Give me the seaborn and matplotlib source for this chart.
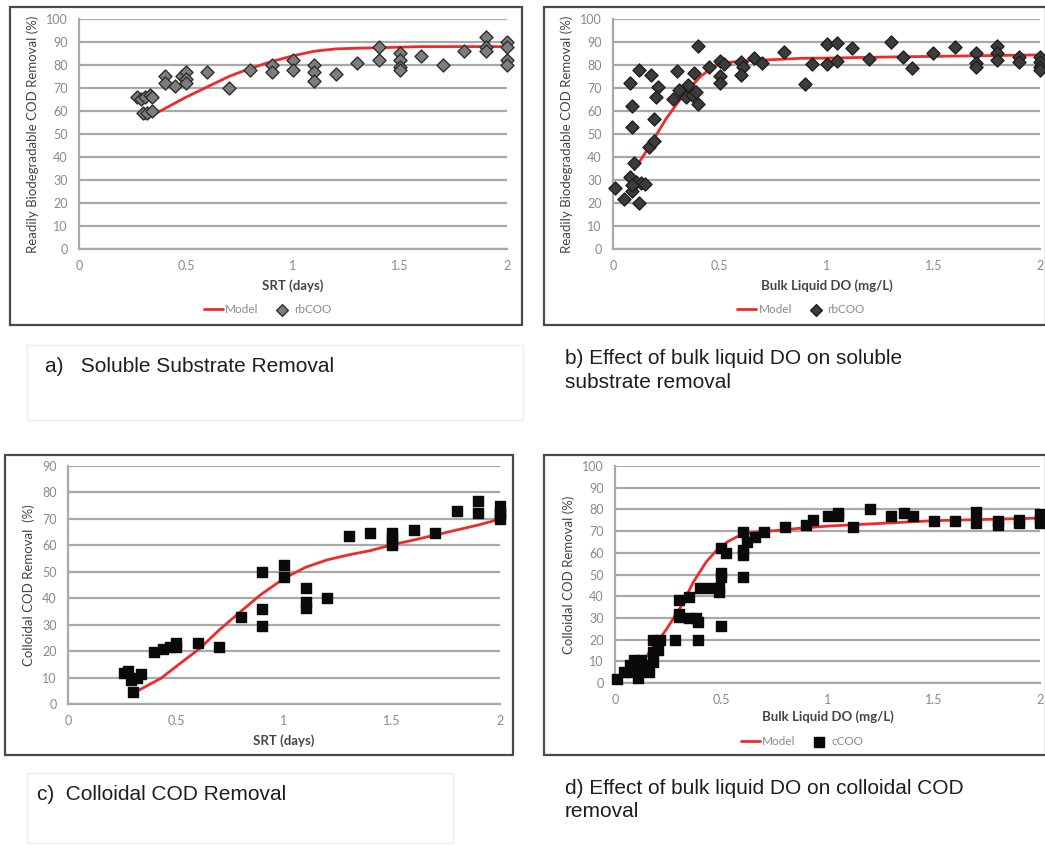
import matplotlib
matplotlib.use('Agg')
import matplotlib.pyplot as plt
import seaborn as sns
from matplotlib.patches import Rectangle

# a) rbCOD removal vs SRT
srt_a = [0.27, 0.29, 0.31, 0.33, 0.34, 0.30, 0.32, 0.34, 0.40, 0.40, 0.45, 0.48, 0.50, 0.50, 0.50,
         0.60, 0.70, 0.80, 0.90, 0.90, 1.00, 1.00, 1.10, 1.10, 1.10, 1.20, 1.30, 1.40, 1.40, 1.50,
         1.50, 1.50, 1.50, 1.60, 1.70, 1.80, 1.90, 1.90, 1.90, 2.00, 2.00, 2.00, 2.00]
rbcod_a = [66, 65, 66, 67, 66, 59, 59, 60, 75, 72, 71, 75, 77, 74, 72,
           77, 70, 78, 80, 77, 82, 78, 80, 77, 73, 76, 81, 88, 82, 85,
           82, 79, 78, 84, 80, 86, 92, 88, 86, 90, 88, 82, 80]
model_x_a = [0.31, 0.4, 0.5, 0.6, 0.7, 0.8, 0.9, 1.0, 1.1, 1.2, 1.3, 1.4, 1.6, 1.8, 2.0]
model_y_a = [56.5, 61, 66, 70.5, 75, 78.5, 81.5, 84, 86, 87, 87.3, 87.5, 88, 88, 88]

# b) rbCOD removal vs bulk DO
do_b = [0.01, 0.05, 0.09, 0.08, 0.12, 0.09, 0.09, 0.10, 0.08, 0.11, 0.13, 0.15, 0.12, 0.09,
        0.18, 0.21, 0.20, 0.19, 0.17, 0.19, 0.30, 0.28, 0.31, 0.35, 0.34, 0.37, 0.38, 0.40,
        0.40, 0.39, 0.45, 0.50, 0.52, 0.50, 0.50, 0.60, 0.61, 0.60, 0.66, 0.70, 0.80, 0.90,
        0.93, 1.00, 1.00, 1.05, 1.05, 1.12, 1.20, 1.30, 1.36, 1.40, 1.50, 1.60, 1.70, 1.70,
        1.70, 1.80, 1.80, 1.80, 1.90, 1.90, 2.00, 2.00, 2.00, 2.00]
rbcod_b = [26.4, 21.7, 25, 72.3, 77.8, 62.2, 53.2, 37.2, 31.4, 29, 28.5, 28.3, 20.1, 27.8,
           75.5, 70.6, 66, 56.4, 44.5, 47, 77.4, 65, 69, 71.3, 66, 67, 76.4, 88.3,
           63, 68.4, 79, 81.9, 80.4, 75, 72.3, 81.4, 79, 75.7, 82.9, 81, 85.5, 71.8,
           80.3, 89, 80.3, 89.7, 81.8, 87.3, 82.5, 90, 83.6, 78.9, 85, 88, 85, 80.8,
           79.3, 88.4, 85, 82, 83.4, 81.5, 83.6, 81.5, 79.3, 77.9]
model_x_b = [0.10, 0.17, 0.25, 0.33, 0.41, 0.47, 0.53, 0.63, 0.72, 0.88, 1.0, 1.3, 1.7, 2.0]
model_y_b = [34.5, 44.5, 56.8, 67, 75, 79.3, 81, 81.9, 82.2, 82.9, 83, 83.5, 84, 84.4]

# c) colloidal COD removal vs SRT
srt_c = [0.26, 0.28, 0.29, 0.30, 0.32, 0.34, 0.40, 0.44, 0.47, 0.50, 0.50, 0.60, 0.70, 0.80,
         0.90, 0.90, 0.90, 1.00, 1.00, 1.10, 1.10, 1.10, 1.20, 1.30, 1.40, 1.50, 1.50, 1.50,
         1.50, 1.60, 1.70, 1.80, 1.90, 1.90, 2.00, 2.00, 2.00, 2.00]
ccod_c = [11.6, 12.6, 9.1, 4.7, 10, 11.3, 19.8, 20.7, 21.7, 23.2, 21.7, 23, 21.7, 32.8,
          49.8, 35.8, 29.6, 52.6, 48.2, 44, 38.7, 36.2, 40, 63.7, 64.8, 64.8, 63, 61,
          60, 65.8, 64.8, 72.8, 76.8, 72.1, 74.9, 72.1, 70, 71.5]
model_x_c = [0.33, 0.43, 0.52, 0.61, 0.70, 0.80, 0.89, 1.0, 1.1, 1.2, 1.3, 1.4, 1.5, 1.6, 1.7, 1.8, 1.9, 2.0]
model_y_c = [5.3, 9.7, 15.4, 21, 28, 35, 41.2, 47.5, 51.7, 54.5, 56.4, 58, 60.2, 62, 63.9, 65.8, 67.7, 69.9]

# d) colloidal COD removal vs bulk DO
do_d = [0.01, 0.04, 0.07, 0.07, 0.09, 0.10, 0.11, 0.12, 0.12, 0.13, 0.16, 0.18, 0.18, 0.18,
        0.20, 0.21, 0.28, 0.30, 0.30, 0.30, 0.35, 0.35, 0.38, 0.39, 0.39, 0.40, 0.45, 0.49,
        0.49, 0.50, 0.50, 0.50, 0.50, 0.52, 0.60, 0.60, 0.60, 0.60, 0.62, 0.66, 0.70, 0.80,
        0.90, 0.93, 1.00, 1.05, 1.05, 1.12, 1.20, 1.30, 1.36, 1.40, 1.50, 1.60, 1.70, 1.70,
        1.80, 1.80, 1.90, 1.90, 2.00, 2.00, 2.00]
ccod_d = [1.8, 5.2, 5.2, 8.3, 10.6, 7.5, 2.2, 10.6, 6, 8.3, 5.2, 9.8, 14.4, 19.8,
          15.2, 19.8, 19.8, 38.2, 30.6, 32, 39.8, 29.8, 29.8, 28.3, 19.8, 44, 44, 43.6,
          42, 50.5, 49, 26.3, 62, 59.7, 69.7, 61.3, 59, 49, 65.1, 67.4, 69.7, 72,
          72.8, 75, 77, 78.2, 77, 71.7, 80.2, 77, 78.2, 77, 74.8, 74.8, 79, 73.9,
          74.8, 72.8, 75, 73.9, 77.9, 75.4, 73.6]
model_x_d = [0.12, 0.18, 0.24, 0.31, 0.37, 0.43, 0.48, 0.53, 0.59, 0.65, 0.75, 0.87, 1.0, 1.5, 2.0]
model_y_d = [8.3, 16.7, 24.4, 35.2, 46.7, 55.9, 61.3, 65.1, 68.2, 69.4, 70.2, 71.3, 72.3, 74.8, 76]

x_ticks = [0, 0.5, 1, 1.5, 2]
x_tick_labels = ['0', '0.5', '1', '1.5', '2']

sns.set_style('white')
plt.rcParams['font.family'] = ['Lato', 'DejaVu Sans']

GRID = '#a9a9a9'
TICK = '#8a8a8a'
LABEL = '#454545'

fig = plt.figure(figsize=(10.45, 8.46), dpi=100)
W, H = 1045, 846


def px_axes(left, top, right, bottom):
    # axes placed from pixel edges of the plot area
    return fig.add_axes([left / W, 1 - bottom / H, (right - left) / W, (bottom - top) / H])


def px_box(left, top, right, bottom, color, lw):
    fig.patches.append(Rectangle((left / W, 1 - bottom / H), (right - left) / W, (bottom - top) / H,
                                 transform=fig.transFigure, fill=False, edgecolor=color, lw=lw))


def draw_panel(ax, x, y, mx, my, marker, face, edge, size, ymax, xlabel, ylabel,
               pt_label, legend_y, labelpad):
    sns.lineplot(x=mx, y=my, ax=ax, color='#ee2b2b', lw=2.0, label='Model', zorder=3)
    sns.scatterplot(x=x, y=y, ax=ax, marker=marker, s=size, color=face, edgecolor=edge,
                    linewidth=1.0, label=pt_label, zorder=4, clip_on=False)
    ax.set_xlim(0, 2)
    ax.set_ylim(0, ymax)
    ax.set_xticks(x_ticks)
    ax.set_xticklabels(x_tick_labels)
    ax.set_yticks(range(0, ymax + 1, 10))
    ax.yaxis.grid(True, color=GRID, lw=1.6)
    ax.xaxis.grid(False)
    ax.set_axisbelow(True)
    for side in ['top', 'right']:
        ax.spines[side].set_visible(False)
    for side in ['left', 'bottom']:
        ax.spines[side].set_color(GRID)
        ax.spines[side].set_linewidth(1.6)
    ax.tick_params(axis='both', colors=TICK, labelsize=9, length=3, width=1.2, pad=5)
    ax.tick_params(axis='y', pad=5)
    ax.set_xlabel(xlabel, fontsize=9.5, color=LABEL, fontweight='bold', labelpad=labelpad)
    ax.set_ylabel(ylabel, fontsize=9.5, color=LABEL, labelpad=5)
    leg = ax.get_legend()
    if leg is not None:
        leg.remove()
    if legend_y is not None:
        ax.legend(loc='center', bbox_to_anchor=(0.44, legend_y), ncol=2, frameon=False,
                  fontsize=8.5, labelcolor=TICK, handlelength=1.6, handletextpad=0.2,
                  columnspacing=1.2, markerscale=0.9)


ax_a = px_axes(79, 19, 507, 249)
draw_panel(ax_a, srt_a, rbcod_a, model_x_a, model_y_a, 'D', '#7d7d7d', '#2e2e2e', 44, 100,
           'SRT (days)', 'Readily Biodegradable COD Removal (%)', 'rbCOO', -0.265, 5)

ax_b = px_axes(613, 19, 1040, 249)
draw_panel(ax_b, do_b, rbcod_b, model_x_b, model_y_b, 'D', '#3c3c3c', '#1e1e1e', 44, 100,
           'Bulk Liquid DO (mg/L)', 'Readily Biodegradable COD Removal (%)', 'rbCOO', -0.265, 5)

ax_c = px_axes(68, 466, 500, 704)
draw_panel(ax_c, srt_c, ccod_c, model_x_c, model_y_c, 's', '#0a0a0a', '#0a0a0a', 52, 90,
           'SRT (days)', 'Colloidal COD Removal  (%)', 'cCOO', None, 5)

ax_d = px_axes(615, 466, 1040, 683)
draw_panel(ax_d, do_d, ccod_d, model_x_d, model_y_d, 's', '#0a0a0a', '#0a0a0a', 52, 100,
           'Bulk Liquid DO (mg/L)', 'Colloidal COD Removal (%)', 'cCOO', -0.27, 3)

# chart frames
px_box(10, 7, 522, 325, '#4a4a4a', 1.6)
px_box(544, 7, 1046, 325, '#4a4a4a', 1.6)
px_box(5, 455, 513, 755, '#4a4a4a', 1.6)
px_box(544, 455, 1046, 755, '#4a4a4a', 1.6)

# faint caption frames
px_box(27, 345, 523, 420, '#ececec', 1.0)
px_box(27, 773, 453, 843, '#ececec', 1.0)

cap = dict(fontsize=15, color='#1e1e1e', family=['Liberation Sans', 'DejaVu Sans'], va='center')
fig.text(45 / W, 1 - 366 / H, 'a)   Soluble Substrate Removal', **cap)
fig.text(565 / W, 1 - 358 / H, 'b) Effect of bulk liquid DO on soluble', **cap)
fig.text(565 / W, 1 - 383 / H, 'substrate removal', **cap)
fig.text(37 / W, 1 - 794 / H, 'c)  Colloidal COD Removal', **cap)
fig.text(565 / W, 1 - 788 / H, 'd) Effect of bulk liquid DO on colloidal COD', **cap)
fig.text(565 / W, 1 - 811 / H, 'removal', **cap)

fig.savefig('out.png', dpi=100)
